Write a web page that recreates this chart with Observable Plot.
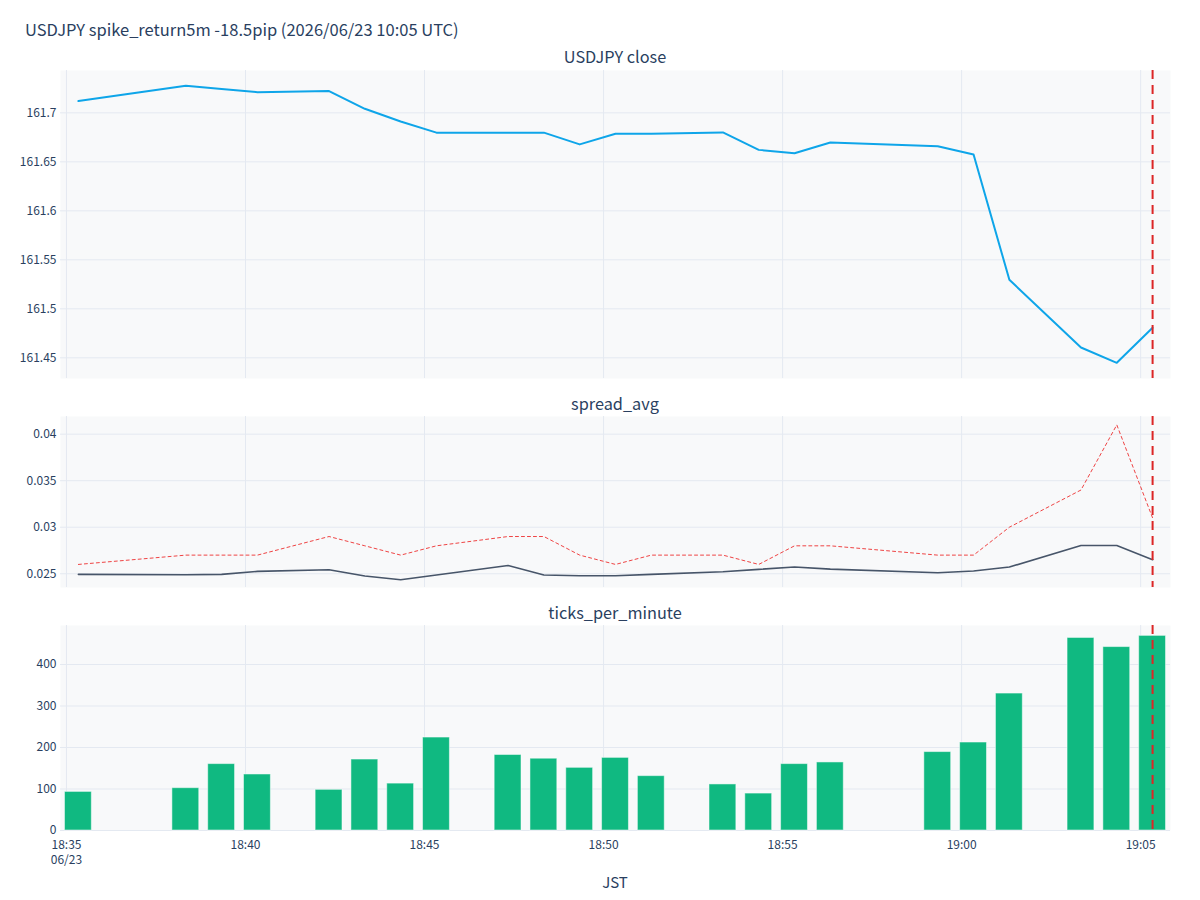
<!DOCTYPE html>
<html>
<head>
<meta charset="utf-8">
<script src="https://cdn.jsdelivr.net/npm/d3@7"></script>
<script src="https://cdn.jsdelivr.net/npm/@observablehq/plot@0.6"></script>
<style>
  html, body { margin: 0; padding: 0; background: #fff; }
  #root { position: relative; width: 1200px; height: 900px; font-family: "Noto Sans CJK JP", "Noto Sans", sans-serif; color: #2a3f5f; }
  .lbl { position: absolute; white-space: nowrap; line-height: 1; }
  .panel { position: absolute; left: 0; }
</style>
</head>
<body>
<div id="root">
  <div class="lbl" style="left:25px; top:21px; font-size:16.5px;">USDJPY spike_return5m -18.5pip (2026/06/23 10:05 UTC)</div>
  <div class="lbl" style="left:615px; top:48px; font-size:16.3px; transform:translateX(-50%);">USDJPY close</div>
  <div class="lbl" style="left:615px; top:395px; font-size:16.3px; transform:translateX(-50%);">spread_avg</div>
  <div class="lbl" style="left:615px; top:604px; font-size:16.3px; transform:translateX(-50%);">ticks_per_minute</div>
  <div class="lbl" style="left:615px; top:874px; font-size:15px; transform:translateX(-50%);">JST</div>
</div>
<script>
// ---- data (JST, 2026/06/23) ----
const times = ["18:35:20","18:38:20","18:39:20","18:40:20","18:42:20","18:43:20","18:44:20","18:45:20",
  "18:47:20","18:48:20","18:49:20","18:50:20","18:51:20","18:53:20","18:54:20","18:55:20","18:56:20",
  "18:59:20","19:00:20","19:01:20","19:03:20","19:04:20","19:05:20"];
const closes = [161.712, 161.7276, 161.7244, 161.7211, 161.7222, 161.7041, 161.6911, 161.6798,
  161.6798, 161.6798, 161.6678, 161.6787, 161.6787, 161.6800, 161.6622, 161.6588, 161.6697,
  161.6659, 161.6574, 161.5296, 161.4605, 161.4449, 161.4806];
const spreadAvg = [0.02493, 0.02489, 0.02493, 0.02525, 0.02543, 0.02475, 0.02436, 0.02486,
  0.02589, 0.02486, 0.02479, 0.02479, 0.02493, 0.02521, 0.02547, 0.02572, 0.02550,
  0.02511, 0.02529, 0.02572, 0.02803, 0.02803, 0.02651];
const spreadMax = [0.026, 0.027, 0.027, 0.027, 0.029, 0.028, 0.027, 0.028,
  0.029, 0.029, 0.027, 0.026, 0.027, 0.027, 0.026, 0.028, 0.028,
  0.027, 0.027, 0.030, 0.034, 0.041, 0.031];
const ticksPerMinute = [93, 102, 160, 135, 98, 171, 113, 224,
  182, 173, 151, 175, 131, 111, 89, 160, 164,
  189, 212, 330, 464, 442, 469];
const xTickLabels = ["18:35","18:40","18:45","18:50","18:55","19:00","19:05"];
const closeTicks = [161.45, 161.5, 161.55, 161.6, 161.65, 161.7];
const spreadTicks = [0.025, 0.03, 0.035, 0.04];
const countTicks = [0, 100, 200, 300, 400];
const eventTime = "19:05:20";
const xRange = ["18:34:50", "19:05:50"];

// ---- helpers ----
const toDate = s => { const [h, m, sec] = s.split(":").map(Number); return new Date(2026, 5, 23, h, m, sec || 0); };
const data = times.map((t, i) => ({
  t: toDate(t), close: closes[i], avg: spreadAvg[i], max: spreadMax[i], n: ticksPerMinute[i]
}));
const xTicks = xTickLabels.map(toDate);
const xDomain = xRange.map(toDate);
const ev = [toDate(eventTime)];

const BG = "#F8F9FA", GRID = "#E4E9F1", TXT = "#2a3f5f";
const fmtNum = d => String(+d.toFixed(4));

function panel({top, height, marginBottom = 0, yDomain, yTicks, marks, xAxis = false}) {
  const svg = Plot.plot({
    width: 1200, height: height + marginBottom,
    marginLeft: 60, marginRight: 30, marginTop: 0, marginBottom,
    style: {background: "transparent", fontFamily: '"Noto Sans CJK JP", "Noto Sans", sans-serif', fontSize: "12px", color: TXT, overflow: "visible"},
    x: {type: "time", domain: xDomain},
    y: {domain: yDomain},
    marks: [
      Plot.frame({fill: BG, stroke: null}),
      Plot.gridX(xTicks, {stroke: GRID, strokeOpacity: 1, strokeWidth: 1}),
      Plot.gridY(yTicks, {stroke: GRID, strokeOpacity: 1, strokeWidth: 1}),
      Plot.axisY(yTicks, {tickSize: 0, tickPadding: 4, tickFormat: fmtNum, fill: TXT, fontSize: 12, label: null}),
      xAxis
        ? Plot.axisX(xTicks, {tickSize: 0, tickPadding: 7, label: null, fill: TXT, fontSize: 12, lineHeight: 1.3,
            tickFormat: (d, i) => (i === 0 ? d3.timeFormat("%H:%M")(d) + "\n" + d3.timeFormat("%m/%d")(d) : d3.timeFormat("%H:%M")(d))})
        : Plot.axisX({ticks: [], label: null, tickSize: 0, tickFormat: () => ""}),
      ...marks,
      Plot.ruleX(ev, {stroke: "#DC2626", strokeWidth: 2, strokeDasharray: "9,6"})
    ]
  });
  svg.classList.add("panel");
  svg.style.top = top + "px";
  document.getElementById("root").appendChild(svg);
}

panel({
  top: 70, height: 308,
  yDomain: [161.4289, 161.7432], yTicks: closeTicks,
  marks: [Plot.line(data, {x: "t", y: "close", stroke: "#0EA5E9", strokeWidth: 2})]
});

panel({
  top: 416, height: 171,
  yDomain: [0.02352, 0.0419], yTicks: spreadTicks,
  marks: [
    Plot.line(data, {x: "t", y: "max", stroke: "#EF4444", strokeWidth: 1, strokeDasharray: "3,3"}),
    Plot.line(data, {x: "t", y: "avg", stroke: "#475569", strokeWidth: 1.6})
  ]
});

panel({
  top: 625, height: 205, marginBottom: 50, xAxis: true,
  yDomain: [0, 494], yTicks: countTicks,
  marks: [
    Plot.rectY(data, {
      x1: d => new Date(+d.t - 22500), x2: d => new Date(+d.t + 22500), y: "n",
      fill: "#10B981", stroke: "#ffffff", strokeOpacity: 0.5, strokeWidth: 1
    })
  ]
});
</script>
</body>
</html>
